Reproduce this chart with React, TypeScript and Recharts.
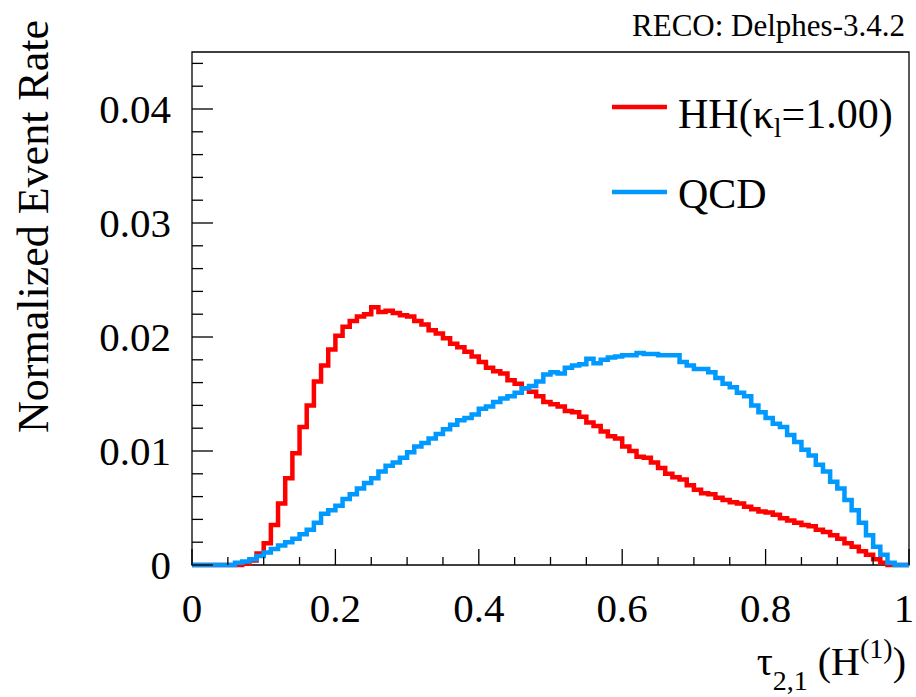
import React from 'react';
import { LineChart, Line, XAxis, YAxis, ReferenceArea } from 'recharts';

// 100 bins on [0, 1]
const binCount = 100;
const xMin = 0;
const xMax = 1;

const hhValues = [
  0, 0, 0, 0, 0, 0, 0, 0.0001, 0.0004, 0.0010,
  0.0019, 0.0035, 0.0054, 0.0076, 0.0098, 0.0121, 0.0140, 0.0161, 0.0175, 0.0189,
  0.0201, 0.0209, 0.0214, 0.0218, 0.0220, 0.0226, 0.0222, 0.0223, 0.0221, 0.0219,
  0.0218, 0.0214, 0.0211, 0.0206, 0.0203, 0.0199, 0.0194, 0.0191, 0.0187, 0.0183,
  0.0178, 0.0173, 0.0170, 0.0168, 0.0162, 0.0159, 0.0155, 0.0152, 0.0148, 0.0143,
  0.0141, 0.0139, 0.0135, 0.0134, 0.0130, 0.0125, 0.0122, 0.0117, 0.0113, 0.0111,
  0.0104, 0.0100, 0.0095, 0.0094, 0.0090, 0.0085, 0.0080, 0.0077, 0.0075, 0.0070,
  0.0066, 0.0063, 0.0062, 0.0059, 0.0057, 0.0055, 0.0054, 0.0051, 0.0049, 0.0047,
  0.0046, 0.0044, 0.0041, 0.0039, 0.0037, 0.0035, 0.0034, 0.0031, 0.0029, 0.0026,
  0.0023, 0.0019, 0.0016, 0.0012, 0.0009, 0.0005, 0.0002, 0, 0, 0,
];

const qcdValues = [
  0, 0, 0, 0, 0, 0, 0.0002, 0.0003, 0.0005, 0.0008,
  0.0011, 0.0014, 0.0017, 0.0020, 0.0023, 0.0027, 0.0031, 0.0037, 0.0045, 0.0048,
  0.0052, 0.0058, 0.0062, 0.0067, 0.0072, 0.0076, 0.0082, 0.0087, 0.0090, 0.0094,
  0.0099, 0.0104, 0.0107, 0.0111, 0.0115, 0.0119, 0.0123, 0.0127, 0.0129, 0.0132,
  0.0137, 0.0139, 0.0143, 0.0146, 0.0148, 0.0151, 0.0155, 0.0157, 0.0161, 0.0167,
  0.0169, 0.0168, 0.0173, 0.0175, 0.0176, 0.0181, 0.0177, 0.0180, 0.0182, 0.0183,
  0.0184, 0.0184, 0.0186, 0.0185, 0.0185, 0.0184, 0.0184, 0.0184, 0.0178, 0.0175,
  0.0172, 0.0172, 0.0169, 0.0164, 0.0159, 0.0156, 0.0151, 0.0148, 0.0140, 0.0134,
  0.0129, 0.0124, 0.0121, 0.0114, 0.0108, 0.0101, 0.0096, 0.0088, 0.0082, 0.0073,
  0.0067, 0.0057, 0.0048, 0.0037, 0.0026, 0.0016, 0.0009, 0.0002, 0, 0,
];

const xMajorTicks = [0, 0.2, 0.4, 0.6, 0.8, 1];
const xMajorLabels = ['0', '0.2', '0.4', '0.6', '0.8', '1'];
const xMinorTicks = [
  0.05, 0.1, 0.15, 0.25, 0.3, 0.35, 0.45, 0.5, 0.55, 0.65, 0.7, 0.75, 0.85, 0.9, 0.95,
];

const yMajorTicks = [0, 0.01, 0.02, 0.03, 0.04];
const yMajorLabels = ['0', '0.01', '0.02', '0.03', '0.04'];
const yMinorTicks = [
  0.002, 0.004, 0.006, 0.008, 0.012, 0.014, 0.016, 0.018, 0.022, 0.024, 0.026, 0.028,
  0.032, 0.034, 0.036, 0.038, 0.042, 0.044,
];
const yMax = 0.045;

const seriesNames = ['HH', 'QCD'];

const FONT = '"Liberation Serif", "Times New Roman", Times, serif';
const RED = '#ff0000';
const BLUE = '#0099ff';

const binWidth = (xMax - xMin) / binCount;
const data = hhValues.map((v, i) => ({
  x: xMin + i * binWidth,
  hh: v,
  qcd: qcdValues[i],
}));
data.push({ x: xMax, hh: hhValues[binCount - 1], qcd: qcdValues[binCount - 1] });

const findMajor = (arr: number[], v: number) => arr.findIndex((t) => Math.abs(t - v) < 1e-9);

const XTick = (props: any) => {
  const { x, y, payload } = props;
  const idx = findMajor(xMajorTicks, payload.value);
  const major = idx >= 0;
  const shift = idx === xMajorTicks.length - 1 ? -5 : 0;
  return (
    <g>
      <line x1={x} x2={x} y1={y} y2={y - (major ? 16 : 8)} stroke="#000" strokeWidth={1.3} />
      {major && (
        <text x={x + shift} y={y + 57} textAnchor="middle" fontFamily={FONT} fontSize={41} fill="#000">
          {xMajorLabels[idx]}
        </text>
      )}
    </g>
  );
};

const YTick = (props: any) => {
  const { x, y, payload } = props;
  const idx = findMajor(yMajorTicks, payload.value);
  const major = idx >= 0;
  return (
    <g>
      <line x1={x} x2={x + (major ? 21 : 11)} y1={y} y2={y} stroke="#000" strokeWidth={1.3} />
      {major && (
        <text x={x - 21} y={y + 14} textAnchor="end" fontFamily={FONT} fontSize={41} fill="#000">
          {yMajorLabels[idx]}
        </text>
      )}
    </g>
  );
};

export default function App() {
  return (
    <div style={{ position: 'absolute', left: 0, top: 0, width: 916, height: 697, background: '#fff' }}>
      <LineChart width={916} height={697} data={data} margin={{ top: 52, right: 7, bottom: 0, left: 0 }}>
        <XAxis
          dataKey="x"
          type="number"
          domain={[xMin, xMax]}
          ticks={[...xMajorTicks, ...xMinorTicks]}
          interval={0}
          tick={<XTick />}
          tickLine={false}
          axisLine={false}
          tickSize={0}
          tickMargin={0}
          height={132}
        />
        <YAxis
          type="number"
          domain={[0, yMax]}
          ticks={[...yMajorTicks, ...yMinorTicks]}
          interval={0}
          tick={<YTick />}
          tickLine={false}
          axisLine={false}
          tickSize={0}
          tickMargin={0}
          width={192}
        />
        <ReferenceArea
          x1={xMin}
          x2={xMax}
          y1={0}
          y2={yMax}
          fill="none"
          stroke="#000"
          strokeWidth={1.3}
          ifOverflow="visible"
        />
        <Line
          dataKey="hh"
          name={seriesNames[0]}
          type="stepAfter"
          stroke={RED}
          strokeWidth={4.5}
          dot={false}
          activeDot={false}
          isAnimationActive={false}
        />
        <Line
          dataKey="qcd"
          name={seriesNames[1]}
          type="stepAfter"
          stroke={BLUE}
          strokeWidth={4.5}
          dot={false}
          activeDot={false}
          isAnimationActive={false}
        />
      </LineChart>
      <svg
        width={916}
        height={697}
        style={{ position: 'absolute', left: 0, top: 0, pointerEvents: 'none' }}
      >
        <text x={905} y={36} textAnchor="end" fontFamily={FONT} fontSize={31} fill="#000">
          RECO: Delphes-3.4.2
        </text>
        <text
          x={48}
          y={20}
          transform="rotate(-90 48 20)"
          textAnchor="end"
          fontFamily={FONT}
          fontSize={44}
          fill="#000"
        >
          Normalized Event Rate
        </text>
        <text x={906} y={675} textAnchor="end" fontFamily={FONT} fontSize={40} fill="#000">
          τ
          <tspan dy={15} fontSize={28}>2,1</tspan>
          <tspan dy={-15}> (H</tspan>
          <tspan dy={-17} fontSize={28}>(1)</tspan>
          <tspan dy={17}>)</tspan>
        </text>
        <line x1={612} x2={667} y1={107} y2={107} stroke={RED} strokeWidth={4.5} />
        <text x={678} y={128} fontFamily={FONT} fontSize={42} fill="#000">
          HH(κ
          <tspan dy={9} fontSize={28}>l</tspan>
          <tspan dy={-9}>=1.00)</tspan>
        </text>
        <line x1={612} x2={667} y1={192} y2={192} stroke={BLUE} strokeWidth={4.5} />
        <text x={678} y={208} fontFamily={FONT} fontSize={42} fill="#000">
          QCD
        </text>
      </svg>
    </div>
  );
}
